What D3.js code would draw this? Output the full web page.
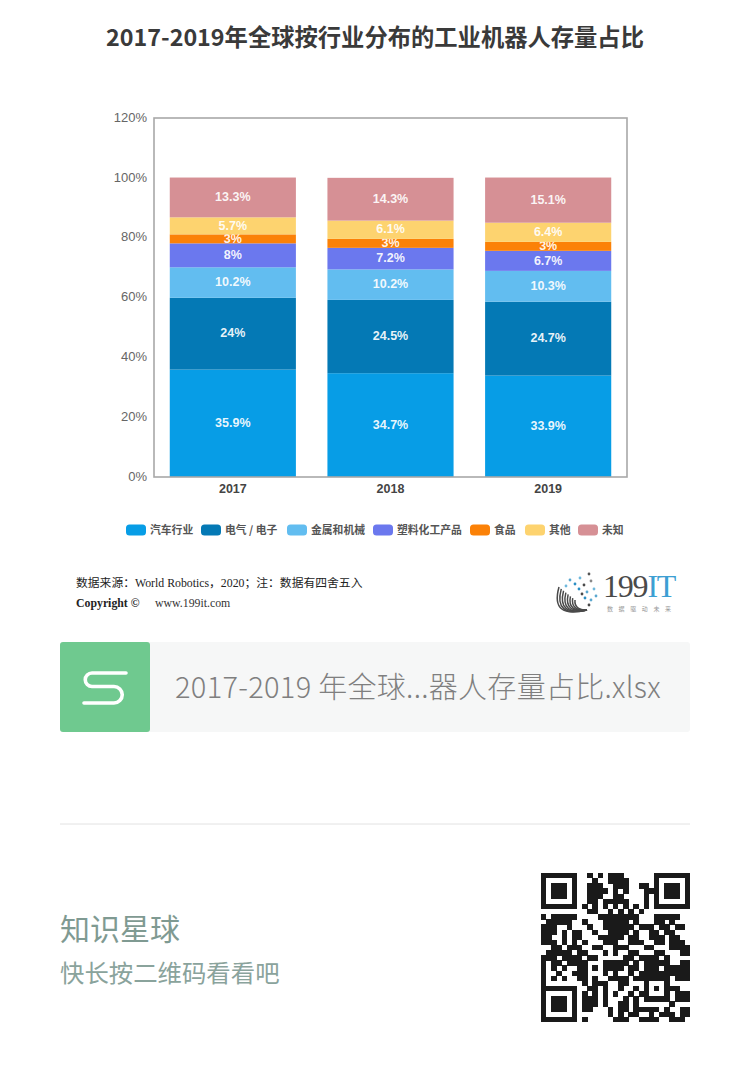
<!DOCTYPE html>
<html>
<head>
<meta charset="utf-8">
<script src="https://d3js.org/d3.v7.min.js"></script>
<style>
  html, body { margin: 0; padding: 0; background: #fff; }
  svg { display: block; }
</style>
</head>
<body>
<div id="chart"></div>
<script>
// chart data
const years = ["2017", "2018", "2019"];
const industries = ["汽车行业", "电气 / 电子", "金属和机械", "塑料化工产品", "食品", "其他", "未知"];
const auto = [35.9, 34.7, 33.9];
const electric = [24, 24.5, 24.7];
const metal = [10.2, 10.2, 10.3];
const plastic = [8, 7.2, 6.7];
const food = [3, 3, 3];
const other = [5.7, 6.1, 6.4];
const unknown = [13.3, 14.3, 15.1];
const yTicks = [0, 20, 40, 60, 80, 100, 120];
const colors = ["#079de6", "#0479b5", "#62bdf0", "#6b78ee", "#fb8107", "#fdd36f", "#d69095"];

const seriesValues = [auto, electric, metal, plastic, food, other, unknown];

// QR modules, one string per row
const qrRows = [
  "1111111" + "001010111000000" + "1111111",
  "1000001" + "000100111100000" + "1000001",
  "1011101" + "001110011100110" + "1011101",
  "1011101" + "001111010100011" + "1011101",
  "1011101" + "001110011000010" + "1011101",
  "1000001" + "001101111100010" + "1000001",
  "1111111" + "010101010101010" + "1111111",
  "00000000011001010101000000000",
  "1011111000" + "0111111110" + "001111100",
  "0111110010" + "0011111010" + "001101000",
  "1110010001" + "0011111101" + "110110110",
  "1110101100" + "1001111010" + "011011000",
  "110010110" + "001111" + "10110011101100",
  "111010101000111" + "00111001101110",
  "001101110011001" + "11000110001111",
  "011111011000101" + "00110001100011",
  "111011110110000" + "01101111010000",
  "101101111000111" + "11010111110011",
  "101010011010111" + "10110111011111",
  "100100111000101" + "00101111111111",
  "101010011010011" + "11011" + "11111" + "0111",
  "100000001011100" + "11000" + "10001" + "0000",
  "1111111" + "0" + "0110100" + "10010" + "10101" + "1100",
  "1000001" + "0" + "1010101" + "00101" + "10001" + "0111",
  "1011101" + "0" + "1110100" + "01010" + "11111" + "0111",
  "1011101" + "0" + "1110100" + "11010" + "00000" + "1000",
  "1011101" + "0" + "1100010" + "11011" + "11101" + "0011",
  "1000001" + "0" + "0000010" + "10110" + "01011" + "1011",
  "1111111" + "0" + "1000001" + "11001" + "11100" + "1110"
];

const cjk = "'Noto Sans CJK SC', sans-serif";
const latin = "'Liberation Sans', 'Noto Sans CJK SC', sans-serif";
const serif = "'Liberation Serif', 'Noto Sans CJK SC', serif";

const svg = d3.select("#chart").append("svg")
    .attr("width", 750)
    .attr("height", 1073);

// title
svg.append("text")
    .attr("x", 375)
    .attr("y", 46)
    .attr("text-anchor", "middle")
    .attr("font-family", cjk)
    .attr("font-weight", 700)
    .attr("font-size", 23.3)
    .attr("fill", "#3a3a3a")
    .text("2017-2019年全球按行业分布的工业机器人存量占比");

// scales
const plot = {left: 154, right: 627, top: 118, bottom: 477};

const x = d3.scaleBand()
    .domain(years)
    .range([plot.left, plot.right])
    .paddingInner(0.2)
    .paddingOuter(0.1);

const y = d3.scaleLinear()
    .domain([0, 120])
    .range([plot.bottom, plot.top]);

const color = d3.scaleOrdinal()
    .domain(industries)
    .range(colors);

// stack the series by year
const table = years.map((year, i) => {
    const row = {year: year};
    industries.forEach((name, k) => { row[name] = seriesValues[k][i]; });
    return row;
});
const stacked = d3.stack().keys(industries)(table);

const layers = svg.selectAll(".layer")
    .data(stacked)
    .enter().append("g")
    .attr("class", "layer")
    .attr("fill", d => color(d.key));

layers.selectAll("rect")
    .data(d => d)
    .enter().append("rect")
    .attr("x", d => x(d.data.year))
    .attr("y", d => y(d[1]))
    .attr("width", x.bandwidth())
    .attr("height", d => y(d[0]) - y(d[1]));

// value labels
layers.selectAll("text")
    .data(d => d.map(p => ({p: p, value: p.data[d.key]})))
    .enter().append("text")
    .attr("x", d => x(d.p.data.year) + x.bandwidth() / 2)
    .attr("y", d => y((d.p[0] + d.p[1]) / 2))
    .attr("dy", "0.3em")
    .attr("text-anchor", "middle")
    .attr("font-family", latin)
    .attr("font-weight", 700)
    .attr("font-size", 12.5)
    .attr("fill", "#fff")
    .attr("fill-opacity", 0.92)
    .text(d => d.value + "%");

// frame + axes
svg.append("rect")
    .attr("x", plot.left)
    .attr("y", plot.top)
    .attr("width", plot.right - plot.left)
    .attr("height", plot.bottom - plot.top)
    .attr("fill", "none")
    .attr("stroke", "#a8a8a8")
    .attr("stroke-width", 1.6);

const yAxis = svg.append("g")
    .attr("transform", "translate(" + plot.left + ",-1)")
    .call(d3.axisLeft(y).tickValues(yTicks).tickSize(0).tickPadding(7).tickFormat(d => d + "%"));
yAxis.select(".domain").remove();
yAxis.selectAll("text")
    .attr("font-family", latin)
    .attr("font-size", 13)
    .attr("fill", "#666");

const xAxis = svg.append("g")
    .attr("transform", "translate(0," + plot.bottom + ")")
    .call(d3.axisBottom(x).tickSize(0).tickPadding(7));
xAxis.select(".domain").remove();
xAxis.selectAll("text")
    .attr("font-family", latin)
    .attr("font-weight", 700)
    .attr("font-size", 12.5)
    .attr("fill", "#444");

// legend
const legendX = [126, 201, 287, 373, 470, 525, 578];
const legend = svg.selectAll(".legend")
    .data(industries)
    .enter().append("g")
    .attr("class", "legend")
    .attr("transform", (d, i) => "translate(" + legendX[i] + ",530)");

legend.append("rect")
    .attr("x", 0)
    .attr("y", -5.5)
    .attr("width", 20)
    .attr("height", 11)
    .attr("rx", 3.5)
    .attr("fill", d => color(d));

legend.append("text")
    .attr("x", 24)
    .attr("dy", "0.36em")
    .attr("font-family", cjk)
    .attr("font-weight", 700)
    .attr("font-size", 10.8)
    .attr("fill", "#555")
    .text(d => d);

// source note
svg.append("text")
    .attr("x", 76)
    .attr("y", 587)
    .attr("font-family", serif)
    .attr("font-size", 11.8)
    .attr("fill", "#222")
    .text("数据来源：World Robotics，2020；注：数据有四舍五入");
svg.append("text")
    .attr("x", 76)
    .attr("y", 607)
    .attr("font-family", serif)
    .attr("font-weight", 700)
    .attr("font-size", 11.8)
    .attr("fill", "#222")
    .text("Copyright ©");
svg.append("text")
    .attr("x", 155)
    .attr("y", 607)
    .attr("font-family", serif)
    .attr("font-size", 11.8)
    .attr("fill", "#333")
    .text("www.199it.com");

// 199IT logo
const logo = svg.append("g").attr("transform", "translate(556,572)");
const fanLines = d3.range(0, 8);
logo.selectAll(".fan")
    .data(fanLines)
    .enter().append("path")
    .attr("class", "fan")
    .attr("fill", "none")
    .attr("stroke", "#4a4a4a")
    .attr("stroke-width", 1.5)
    .attr("d", d => {
        const t = d / 7;
        const p = d3.path();
        p.moveTo(31, 38);
        p.quadraticCurveTo(-6 + 24 * t, 47 - 9 * t, 3 + 16 * t, 15 + 13 * t);
        return p.toString();
    });
const logoDots = [[14, 8, "#5aa7cf"], [19, 12, "#2b8fc4"], [24, 6, "#6fb8dc"], [28, 13, "#4a4a4a"], [23, 17, "#2b8fc4"],
    [31, 20, "#5aa7cf"], [35, 9, "#888"], [33, 2, "#555"], [29, 26, "#2b8fc4"], [35, 28, "#5aa7cf"], [10, 14, "#6fb8dc"],
    [38, 17, "#6fb8dc"], [33, 33, "#4a4a4a"], [26, 22, "#4a4a4a"], [40, 24, "#5aa7cf"]];
logo.selectAll(".dot")
    .data(logoDots)
    .enter().append("circle")
    .attr("class", "dot")
    .attr("cx", d => d[0])
    .attr("cy", d => d[1])
    .attr("r", 1.4)
    .attr("fill", d => d[2]);
const logoText = logo.append("text")
    .attr("x", 47)
    .attr("y", 25)
    .attr("font-family", serif)
    .attr("font-size", 32)
    .attr("letter-spacing", -1.2)
    .attr("fill", "#4a4a4a");
logoText.append("tspan").text("199");
logoText.append("tspan").attr("fill", "#3d9fd3").text("IT");
logo.append("text")
    .attr("x", 51)
    .attr("y", 38.5)
    .attr("font-family", cjk)
    .attr("font-size", 6)
    .attr("letter-spacing", 5.6)
    .attr("fill", "#999")
    .text("数据驱动未来");

// file card
svg.append("rect")
    .attr("x", 60)
    .attr("y", 642)
    .attr("width", 630)
    .attr("height", 90)
    .attr("rx", 3)
    .attr("fill", "#f6f7f7");
svg.append("rect")
    .attr("x", 60)
    .attr("y", 642)
    .attr("width", 90)
    .attr("height", 90)
    .attr("rx", 3)
    .attr("fill", "#6fc98f");
svg.append("path")
    .attr("d", "M126,673 H92 A6.75,6.75 0 0 0 92,686.5 H114 A8,8 0 0 1 114,703 H84")
    .attr("fill", "none")
    .attr("stroke", "#fff")
    .attr("stroke-width", 3.6)
    .attr("stroke-linecap", "round");
svg.append("text")
    .attr("x", 175)
    .attr("y", 698)
    .attr("font-family", cjk)
    .attr("font-weight", 300)
    .attr("font-size", 29)
    .attr("letter-spacing", 0.3)
    .attr("fill", "#7f7f7f")
    .text("2017-2019 年全球...器人存量占比.xlsx");

// footer
svg.append("line")
    .attr("x1", 60)
    .attr("x2", 690)
    .attr("y1", 824)
    .attr("y2", 824)
    .attr("stroke", "#e2e2e2")
    .attr("stroke-width", 1);
svg.append("text")
    .attr("x", 60)
    .attr("y", 940)
    .attr("font-family", cjk)
    .attr("font-size", 30)
    .attr("fill", "#7f9a92")
    .text("知识星球");
svg.append("text")
    .attr("x", 60)
    .attr("y", 982)
    .attr("font-family", cjk)
    .attr("font-size", 24.4)
    .attr("fill", "#8aa39c")
    .text("快长按二维码看看吧");

// QR code
const qrX = d3.scaleBand().domain(d3.range(29)).range([541, 690]);
const qrY = d3.scaleBand().domain(d3.range(29)).range([873, 1022]);
const qrCells = [];
qrRows.forEach((row, r) => {
    row.split("").forEach((bit, c) => {
        if (bit === "1") qrCells.push({r: r, c: c});
    });
});
svg.append("g")
    .attr("fill", "#1a1a1a")
    .attr("shape-rendering", "crispEdges")
    .selectAll("rect")
    .data(qrCells)
    .enter().append("rect")
    .attr("x", d => qrX(d.c))
    .attr("y", d => qrY(d.r))
    .attr("width", qrX.bandwidth() + 0.3)
    .attr("height", qrY.bandwidth() + 0.3);
</script>
</body>
</html>
